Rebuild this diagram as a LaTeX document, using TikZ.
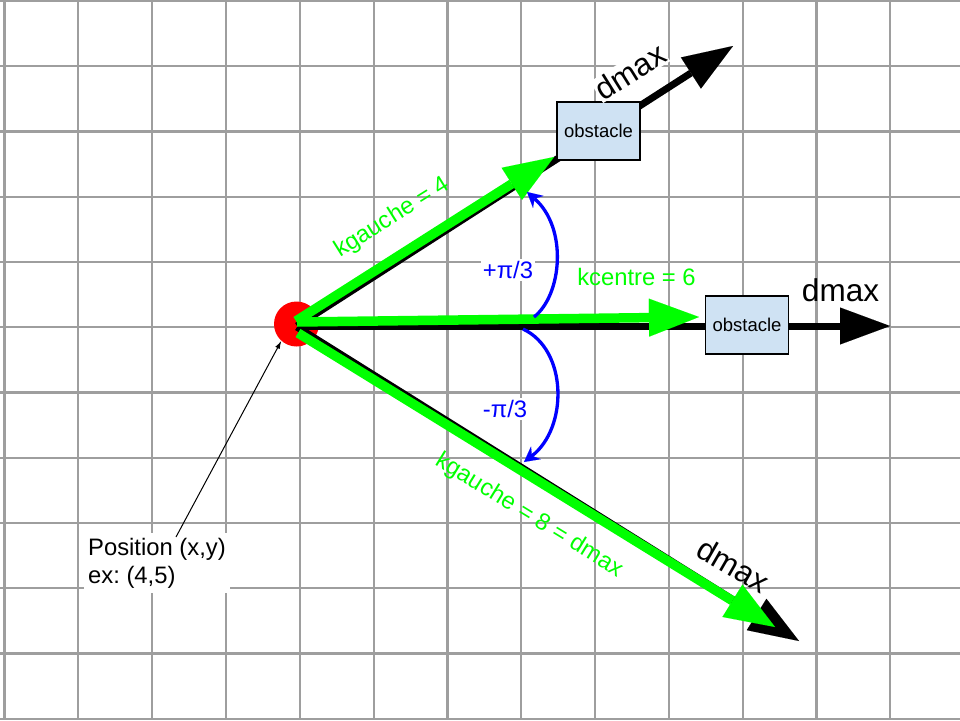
\documentclass[tikz,border=0pt]{standalone}
\usepackage{fontspec}
\setmainfont{Liberation Sans}
\usetikzlibrary{arrows.meta}
\definecolor{gridgray}{RGB}{158,158,158}
\definecolor{obsblue}{RGB}{207,226,243}
\definecolor{lgreen}{RGB}{0,255,0}
\definecolor{pblue}{RGB}{0,0,255}
\frenchspacing
\begin{document}
\begin{tikzpicture}[x=1pt,y=-1pt,
  gridline/.style={gridgray, line width=2.2pt},
  blackray/.style={line width=7pt, -{Triangle[length=50pt,width=37pt,line width=0.01pt]}},
  greenray/.style={lgreen, line width=9.5pt, -{Triangle[length=50pt,width=38pt,line width=0.01pt]}},
  anglearc/.style={pblue, line width=3.3pt, -{Stealth[length=15pt,width=16pt,inset=5pt,line width=0.01pt]}},
  obstacle/.style={draw=black, line width=1.2pt, fill=obsblue, minimum width=83pt, minimum height=58pt, inner sep=0pt, font=\fontsize{18.5}{22}\selectfont},
  glabel/.style={text=lgreen, font=\fontsize{23.8}{28}\selectfont, inner sep=0pt},
  blabel/.style={text=pblue, fill=white, font=\fontsize{23.8}{28}\selectfont, inner sep=2pt},
  dlabel/.style={font=\fontsize{31.5}{36}\selectfont, inner sep=1pt},
]
\useasboundingbox (0,0) rectangle (960,720);
\fill[white] (0,0) rectangle (960,720);
% grid
\foreach \k in {0,...,12} \draw[gridline] ({4.5+73.82*\k},0) -- ({4.5+73.82*\k},720);
\foreach \k in {0,...,11} \draw[gridline] (0,{1+65.25*\k}) -- (960,{1+65.25*\k});
% robot position
\node[circle, fill=red, minimum size=45pt, inner sep=0pt] (pos) at (296.5,324) {};
% ray end points
\coordinate (oB1) at (297,326); \coordinate (tB1) at (733,46);
\coordinate (oG1) at (296,321); \coordinate (tG1) at (554,157);
\coordinate (oB2) at (297,326); \coordinate (tB2) at (890,326);
\coordinate (oG2) at (297,322); \coordinate (tG2) at (699,317);
\coordinate (oB3) at (297,327); \coordinate (tB3) at (799,641);
\coordinate (oG3) at (298,333); \coordinate (tG3) at (775,627);
% black rays
\draw[blackray] (oB1) -- (tB1);
\draw[blackray] (oB2) -- (tB2);
\draw[blackray] (oB3) -- (tB3);
% green rays
\draw[greenray] (oG1) -- (tG1);
\draw[greenray] (oG2) -- (tG2);
\draw[greenray] (oG3) -- (tG3);
% obstacles
\node[obstacle] (obs1) at (598.5,131) {obstacle};
\node[obstacle] (obs2) at (747,325) {obstacle};
% angle arcs
\coordinate (a1s) at (534,317); \coordinate (a1e) at (527,192);
\coordinate (a2s) at (523,329); \coordinate (a2e) at (524,462);
\draw[anglearc] (a1s) .. controls (562,295) and (568,228) .. (a1e);
\draw[anglearc] (a2s) .. controls (568,350) and (568,428) .. (a2e);
% labels
\node[blabel] (lp) at (508,270) {+π/3};
\node[blabel] (lm) at (505,409) {-π/3};
\node[glabel, anchor=base] (kc) at (636.5,285) {kcentre = 6};
\node[glabel, anchor=base, rotate=32] (kg4) at (395.5,223) {kgauche = 4};
\node[glabel, anchor=base, rotate=-31.5] (kg8) at (526,521) {kgauche = 8 = dmax};
\node[dlabel, fill=white, anchor=base, rotate=32] (d1) at (636,81) {dmax};
\node[dlabel, anchor=base] (d2) at (840.5,301) {dmax};
\node[dlabel, anchor=base, rotate=-30] (d3) at (727.5,575) {dmax};
% position label
\node[font=\fontsize{23.8}{28}\selectfont, fill=white, align=left, anchor=north west, inner xsep=4pt, inner ysep=5pt] (posl) at (84,532.7) {Position (x,y)\\ex: (4,5)};
\coordinate (pa) at (176,537);
\draw[line width=1pt, -{Latex[length=8pt,width=5pt]}] (pa) -- (pos.228);
\end{tikzpicture}
\end{document}
